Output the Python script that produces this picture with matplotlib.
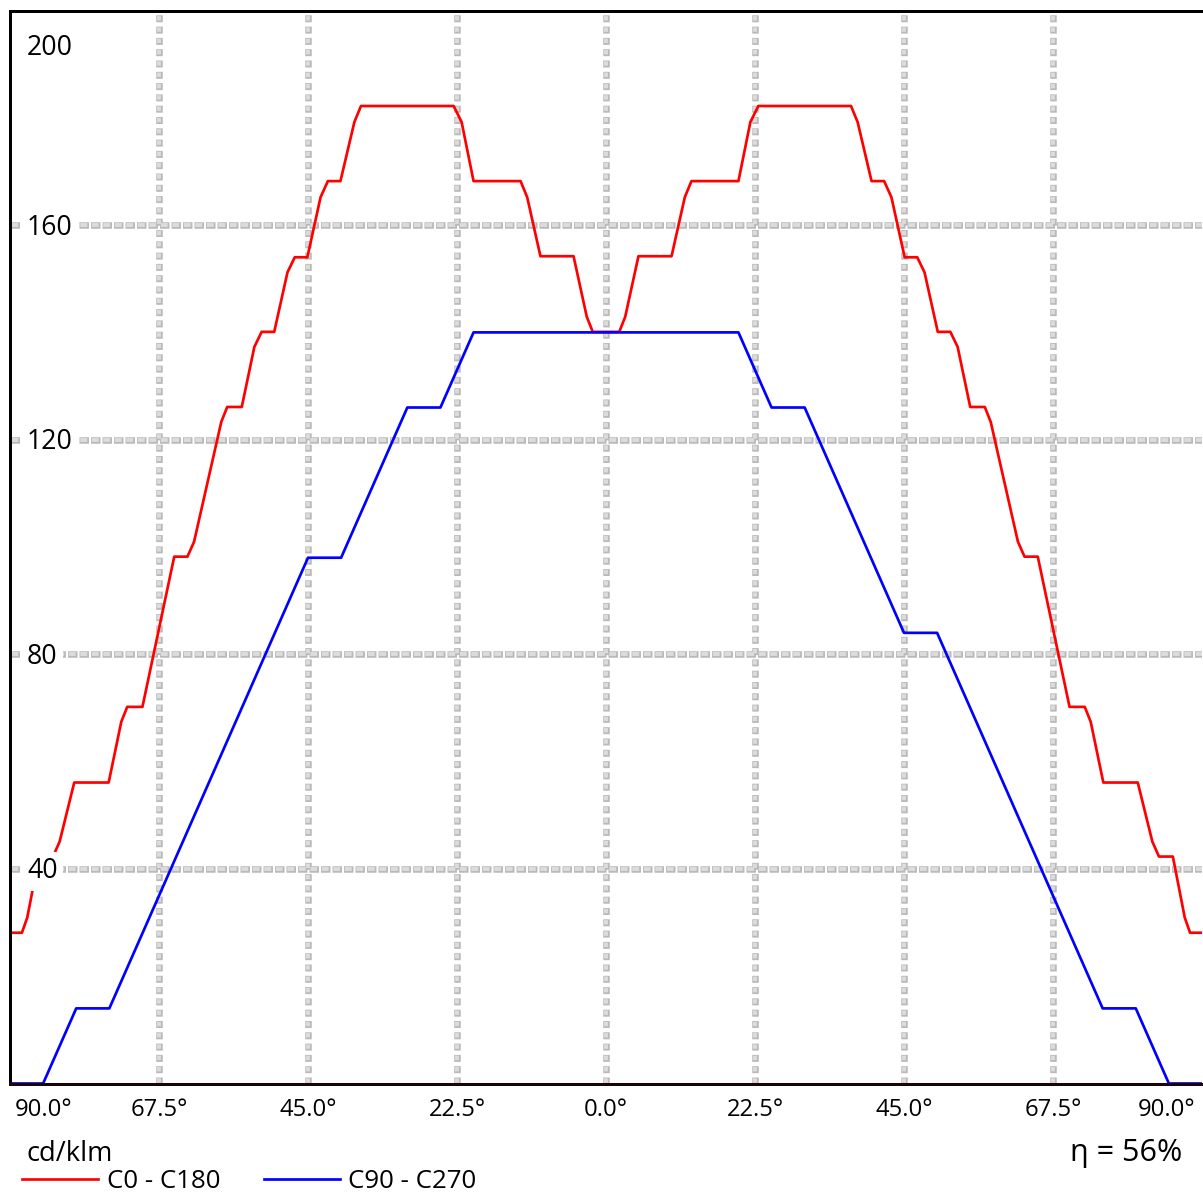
import matplotlib
matplotlib.use("Agg")
import matplotlib.pyplot as plt
import matplotlib.transforms as mtransforms

plt.rcParams['font.family'] = ['Open Sans', 'DejaVu Sans']
plt.rcParams['lines.scale_dashes'] = False

# Luminous intensity curves, cd/klm, gamma angle in degrees
# C0 - C180 plane (negative angles = C180 half)
c0_angles = [-90.0, -88.2, -87.4, -85.6, -83.5, -82.5, -80.3, -75.1, -73.2, -72.3,
             -70.0, -65.2, -63.2, -62.2, -58.1, -57.2, -55.0, -53.1, -52.0, -50.1,
             -48.1, -47.0, -45.1, -43.1, -42.0, -40.1, -38.0, -37.0, -23.0, -21.8,
             -20.0, -12.9, -11.9, -9.9, -4.9, -2.9, -2.0,
             2.0, 2.9, 4.9, 9.9, 11.9, 12.9, 20.0, 21.8, 23.0, 37.0,
             38.0, 40.1, 42.0, 43.1, 45.1, 47.0, 48.1, 50.1, 52.0, 53.1,
             55.0, 57.2, 58.1, 62.2, 63.2, 65.2, 70.0, 72.3, 73.2, 75.1,
             80.3, 82.5, 83.5, 85.6, 87.4, 88.2, 90.0]
c0_values = [28.1, 28.1, 30.9, 42.3, 42.3, 45.1, 56.1, 56.1, 67.4, 70.2,
             70.2, 98.2, 98.2, 101.0, 123.3, 126.1, 126.1, 137.3, 140.1, 140.1,
             151.2, 154.0, 154.0, 165.2, 168.2, 168.2, 179.2, 182.2, 182.2, 179.2,
             168.2, 168.2, 165.2, 154.2, 154.2, 142.9, 140.1,
             140.1, 142.9, 154.2, 154.2, 165.2, 168.2, 168.2, 179.2, 182.2, 182.2,
             179.2, 168.2, 168.2, 165.2, 154.0, 154.0, 151.2, 140.1, 140.1, 137.3,
             126.1, 126.1, 123.3, 101.0, 98.2, 98.2, 70.2, 70.2, 67.4, 56.1,
             56.1, 45.1, 42.3, 42.3, 30.9, 28.1, 28.1]

# C90 - C270 plane
c90_angles = [-90, -85, -80, -75, -45, -40, -30, -25, -20,
              20, 25, 30, 45, 50, 75, 80, 85, 90]
c90_values = [0, 0, 14, 14, 98, 98, 126, 126, 140,
              140, 126, 126, 84, 84, 14, 14, 0, 0]

x_ticks = [-90, -67.5, -45, -22.5, 0, 22.5, 45, 67.5, 90]
x_tick_labels = ['90.0°', '67.5°', '45.0°', '22.5°', '0.0°',
                 '22.5°', '45.0°', '67.5°', '90.0°']
y_ticks = [40, 80, 120, 160, 200]
y_tick_labels = ['40', '80', '120', '160', '200']
series_names = ['C0 - C180', 'C90 - C270']
unit_label = 'cd/klm'
efficiency_label = 'η = 56%'

W, H = 1203, 1201
PT = 0.72  # points per pixel at 100 dpi

fig = plt.figure(figsize=(W / 100, H / 100), dpi=100)
ax = fig.add_axes([10 / W, 1 - 1083.5 / H, 1192 / W, 1073 / H])
ax.set_xlim(-90, 90)
ax.set_ylim(0, 200)
ax.set_xticks([])
ax.set_yticks([])

for side in ('left', 'top', 'bottom'):
    ax.spines[side].set_linewidth(3 * PT)
    ax.spines[side].set_color('black')
    ax.spines[side].set_zorder(5)
ax.spines['bottom'].set_color('#1c0404')
ax.spines['right'].set_visible(False)


def hollow_dash_line(draw, value, dash, gap, thick, border=1.3):
    """Grid line made of small outlined dashes."""
    period = dash + gap
    draw(value, color='#b9b9b9', lw=thick * PT,
         linestyle=(0, (dash * PT, gap * PT)), dash_capstyle='butt', zorder=1)
    draw(value, color='#dcdcdc', lw=(thick - 2 * border) * PT,
         linestyle=((period - border) * PT, ((dash - 2 * border) * PT, (gap + 2 * border) * PT)),
         dash_capstyle='butt', zorder=1.1)


for xv in x_ticks[1:-1]:
    hollow_dash_line(ax.axvline, xv, dash=7.0, gap=4.3, thick=6.5)
for yv in y_ticks[:-1]:
    hollow_dash_line(ax.axhline, yv, dash=9.5, gap=2.0, thick=6.5)

l_c0, = ax.plot(c0_angles, c0_values, color='#ff0000', lw=2.7 * PT, zorder=3)
l_c90, = ax.plot(c90_angles, c90_values, color='#0000ff', lw=2.7 * PT, zorder=3.5)

# y tick labels drawn inside the plot on a white patch
ylab_trans = mtransforms.blended_transform_factory(ax.transAxes, ax.transData)
for v, lab in zip(y_ticks, y_tick_labels):
    dy = -9.5 if v != 200 else -44.5
    tr = ylab_trans + mtransforms.ScaledTranslation(17 / 100, dy / 100, fig.dpi_scale_trans)
    ax.text(0, v, lab, transform=tr, ha='left', va='baseline', fontsize=19.2,
            color='black', zorder=6,
            bbox=dict(boxstyle='square,pad=0.2', fc='white', ec='none'))

# x tick labels below the frame
xlab_trans = mtransforms.blended_transform_factory(ax.transData, ax.transAxes)
for i, (xv, lab) in enumerate(zip(x_ticks, x_tick_labels)):
    ha, dx = 'center', 0
    if i == 0:
        ha, dx = 'left', 5
    elif i == len(x_ticks) - 1:
        ha, dx = 'right', -7
    tr = xlab_trans + mtransforms.ScaledTranslation(dx / 100, -32.5 / 100, fig.dpi_scale_trans)
    ax.text(xv, 0, lab, transform=tr, ha=ha, va='baseline', fontsize=17.1,
            color='black', clip_on=False)

fig.text(27 / W, 1 - 1160.7 / H, unit_label, ha='left', va='baseline',
         fontsize=19.6, color='black')
fig.text(1182 / W, 1 - 1160.7 / H, efficiency_label, ha='right', va='baseline',
         fontsize=22, color='black')

fs = 18.6
em = fs / PT
fig.legend(handles=[l_c0, l_c90], labels=series_names, loc='upper left',
           bbox_to_anchor=(22 / W, 1 - 1169 / H), ncol=2, frameon=False,
           fontsize=fs, handlelength=76 / em, handletextpad=9 / em,
           columnspacing=43 / em, borderpad=0, borderaxespad=0)

fig.savefig('out.png', dpi=100, facecolor='white')
